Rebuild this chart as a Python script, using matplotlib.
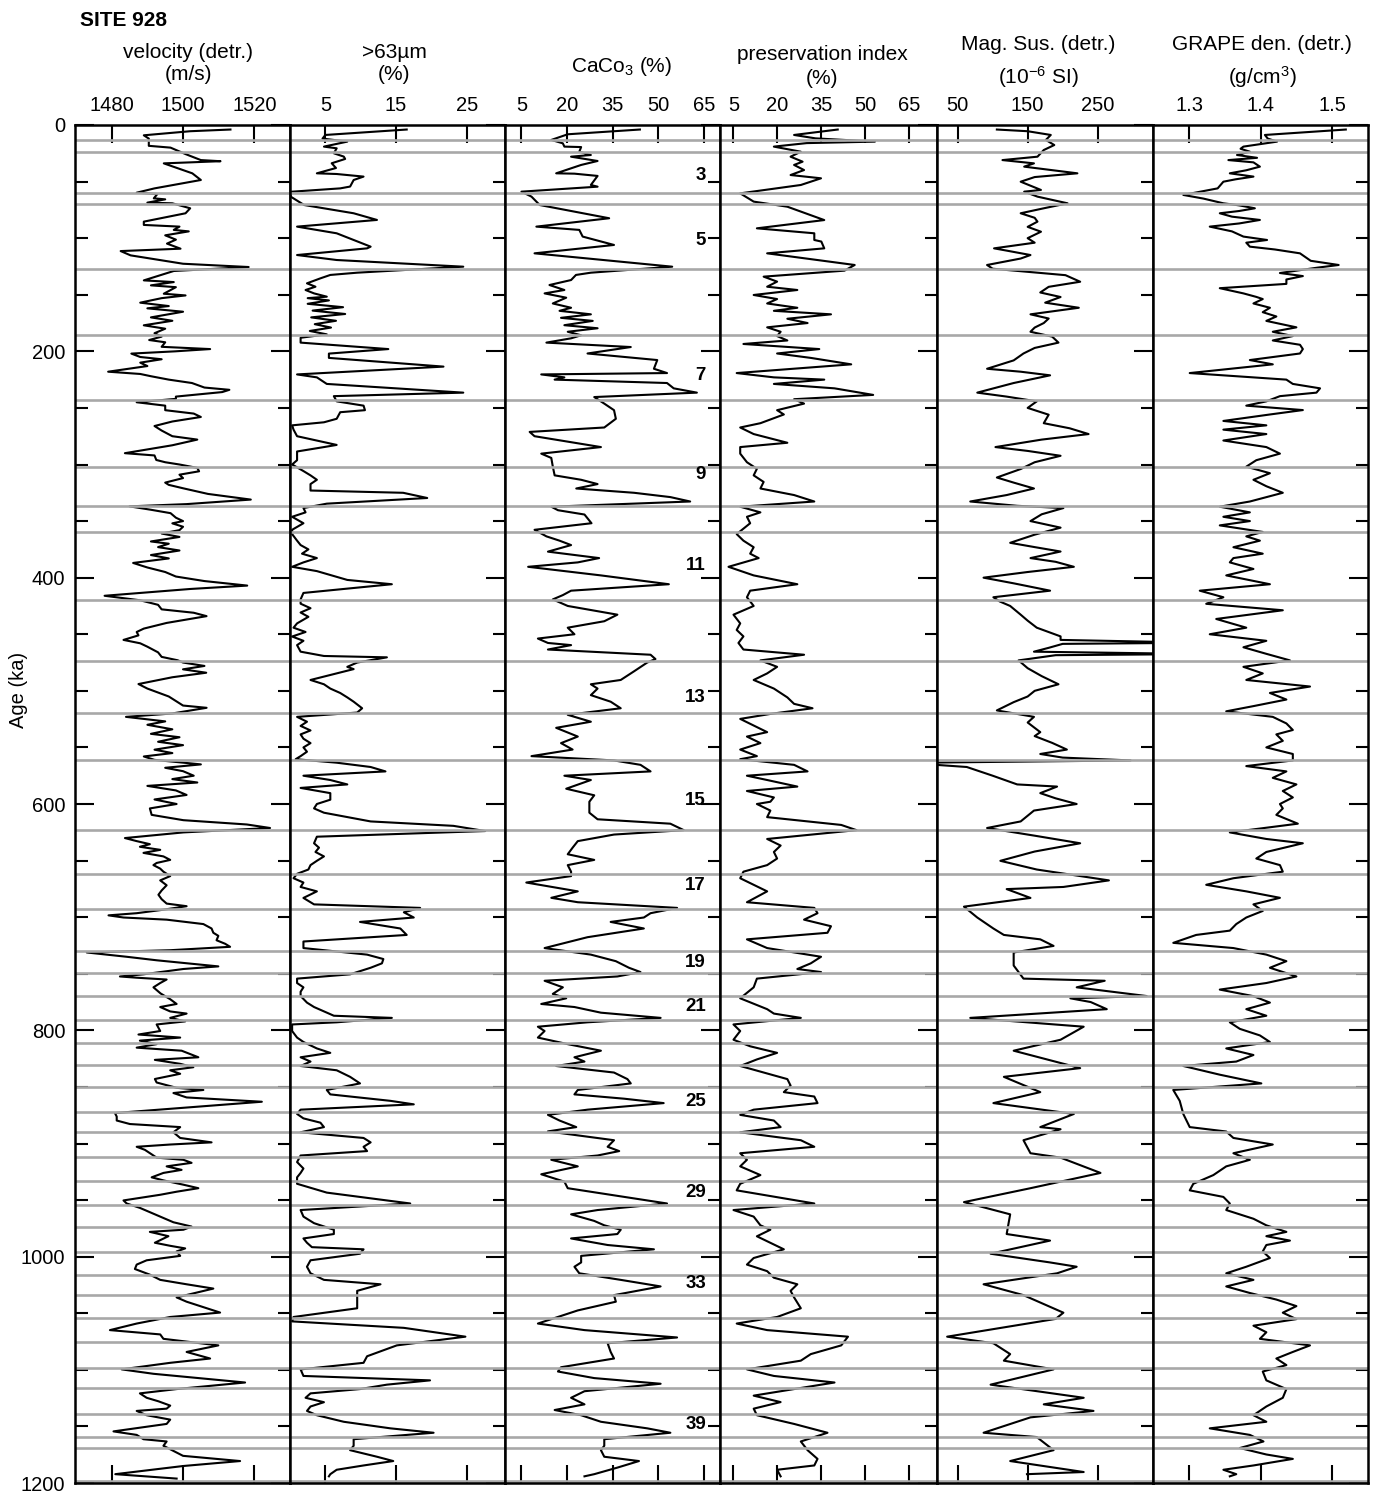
import matplotlib
matplotlib.use("Agg")
import matplotlib.pyplot as plt
import matplotlib.transforms as mtransforms
from matplotlib.ticker import MultipleLocator

plt.rcParams['font.family'] = ['Liberation Sans', 'DejaVu Sans']
plt.rcParams['mathtext.fontset'] = 'custom'
plt.rcParams['mathtext.rm'] = 'Liberation Sans'
plt.rcParams['mathtext.it'] = 'Liberation Sans:italic'
plt.rcParams['mathtext.bf'] = 'Liberation Sans:bold'

# ---- data: (age ka, value) ----
vel_pts = [
    (4, 1513.3), (5.5, 1502), (9.1, 1489), (12, 1490.4), (18.4, 1490.4), (20, 1496.5), (25.7, 1500.7),
    (31, 1505), (32, 1510.5), (33.9, 1494.6), (39.8, 1500), (42.7, 1502.6), (48.6, 1505), (56, 1492),
    (59.8, 1487), (61, 1492.8), (64.8, 1491.8), (65.7, 1495), (68.6, 1490), (69.2, 1497), (73.6, 1502),
    (78, 1500.7), (85.4, 1489), (88.3, 1489), (89.8, 1499), (92.7, 1497.4), (94, 1501.6), (97.5, 1495),
    (101.3, 1498), (104.8, 1495.5), (109.3, 1499.3), (111.4, 1482.5), (115.2, 1485.3), (122.6, 1500),
    (125.5, 1518.4), (129, 1497.4), (137.3, 1489), (138.8, 1497.4), (141.7, 1491), (143.3, 1498),
    (149.1, 1494.6), (150.6, 1500.7), (153, 1494), (157, 1488), (160, 1496), (162, 1490), (165, 1500),
    (170, 1491), (173, 1497), (177, 1489), (180, 1495), (184, 1492), (187, 1494), (190, 1490.5),
    (192, 1495), (196, 1494), (198, 1507.6), (200, 1497.8), (202, 1485.5), (205, 1488), (207, 1494),
    (210, 1488), (213, 1490), (218, 1479), (220, 1488), (222, 1491), (225, 1496), (228, 1502.5),
    (232, 1506), (234, 1513), (236, 1511), (240, 1498), (242, 1498), (245, 1487), (248, 1495),
    (252, 1495), (255, 1503), (258, 1505), (262, 1497), (266, 1492), (270, 1494), (275, 1497),
    (278, 1504), (283, 1497), (290, 1483.7), (292, 1492), (296, 1492.5), (298, 1495), (300, 1499),
    (303, 1504), (306, 1504.5), (309, 1499), (312, 1500), (316, 1495), (318, 1496), (321, 1500),
    (326, 1507), (331, 1519), (335, 1501), (337, 1485), (340, 1491), (343, 1496.5), (347, 1498),
    (350, 1500), (352, 1497), (355, 1500), (358, 1499), (361, 1494), (364, 1499), (368, 1491),
    (370, 1496), (373, 1493), (376, 1499), (380, 1491), (383, 1496), (387, 1486), (391, 1490),
    (395, 1495), (399, 1498), (403, 1506), (407, 1518), (410, 1502), (413, 1490), (416, 1478),
    (420, 1488), (424, 1493), (428, 1494), (431, 1503), (434, 1506.6), (437, 1501), (440, 1495.4),
    (445, 1489), (448, 1487), (451, 1487.5), (455, 1483.3), (458, 1488), (461, 1490), (466, 1493),
    (470, 1494), (473, 1498.5), (475, 1500), (478, 1506), (481, 1500), (484, 1506.5), (488, 1497),
    (494, 1487.5), (498, 1490), (505, 1496), (513, 1500), (515, 1506.6), (520, 1497), (523, 1484),
    (527, 1495), (530, 1490), (534, 1497), (538, 1491), (541, 1499), (545, 1493), (548, 1500),
    (552, 1492), (555, 1497), (558, 1489), (561, 1492), (565, 1505), (568, 1495), (571, 1500),
    (575, 1503), (578, 1497), (581, 1504), (584, 1490), (588, 1498), (592, 1501), (596, 1492),
    (600, 1498.2), (603.9, 1490.7), (609.6, 1491.2), (614.3, 1500.1), (618.1, 1517.9), (621.2, 1524.4),
    (625.1, 1500.1), (630.1, 1483.7), (632.8, 1487), (635.5, 1490.7), (637.8, 1487.9), (640.5, 1493.6),
    (643.2, 1488.9), (646.3, 1494.5), (649.4, 1496.4), (652.1, 1492.6), (654, 1491.7), (657.1, 1493.6),
    (659.8, 1494.5), (663.7, 1496.4), (667.5, 1493.6), (671.8, 1495.4), (676.4, 1494), (680.2, 1493.1),
    (684.1, 1494), (688, 1495.4), (690.3, 1501), (693.4, 1494.5), (696.5, 1487), (698.4, 1479.1),
    (700.3, 1483.3), (702.2, 1495.4), (706.1, 1505.7), (710, 1508), (713.8, 1508.5), (716.5, 1509.9),
    (720.4, 1509.4), (723.5, 1511.8), (726.2, 1513.2), (729.2, 1496.4), (731.2, 1473), (735, 1484.2),
    (738.1, 1492.6), (743.5, 1509.9), (745.8, 1500.1), (750.5, 1488.9), (752.4, 1482.3), (753.5, 1487),
    (755.1, 1495.4), (758.2, 1493.6), (762, 1491.7), (767.4, 1493.7), (772.5, 1496.4), (776.7, 1498.2),
    (779.4, 1493.6), (783.3, 1496.4), (785.2, 1501), (789, 1496.4), (792.1, 1500.6), (794.8, 1492.6),
    (800.6, 1493.6), (803.7, 1487.5), (806.4, 1499.2), (809.1, 1487.9), (812.2, 1492.6), (815.3, 1487),
    (818, 1499.6), (823.8, 1504.3), (826.1, 1492.1), (829.6, 1499.2), (832.6, 1502.9), (835.3, 1496.4),
    (838.4, 1499.2), (843, 1492.1), (846.1, 1492.6), (850.8, 1498.2), (852.7, 1505.7), (855.4, 1497.3),
    (859.3, 1501), (863.1, 1522.1), (866.2, 1509.4), (869.3, 1496.4), (873.1, 1480.9), (876.2, 1481.4),
    (879.7, 1481.4), (882.8, 1485.1), (885.5, 1499.2), (890.1, 1497.3), (895.1, 1499.2), (899, 1508),
    (900.9, 1496.4), (902.9, 1487), (905.6, 1489.3), (912.5, 1492.6), (914.4, 1500.1), (917.1, 1502.4),
    (920.2, 1495.4), (923.3, 1499.6), (926, 1494.5), (929.9, 1491.2), (932.6, 1494.5), (936.4, 1500.1),
    (939.5, 1504.3), (942.6, 1498.2), (945.3, 1493.6), (950.3, 1483.3), (953, 1484.2), (956.9, 1487.9),
    (960.7, 1490.7), (964.6, 1493.6), (969.6, 1497.3), (973.4, 1502.4), (976.2, 1500.1), (978.1, 1490.7),
    (981.9, 1495.9), (987.7, 1492.1), (990.4, 1496.4), (992.7, 1500.6), (995.4, 1498.2), (999.3, 1499.2),
    (1003.2, 1489.8), (1007, 1487), (1010.9, 1486.5), (1015.9, 1490.7), (1020.5, 1493.6), (1024.4, 1501),
    (1028.2, 1508.5), (1036, 1498.2), (1039.8, 1501), (1049.4, 1510.4), (1053.3, 1496.4), (1059.1, 1487),
    (1064.9, 1479.5), (1068.7, 1493.6), (1072.6, 1494.5), (1078.4, 1509.9), (1084.2, 1501), (1090, 1507.6),
    (1093.8, 1496.4), (1099.6, 1482.8), (1103.5, 1491.7), (1111.2, 1517.4), (1117, 1498.2),
    (1120.8, 1487.9), (1124.7, 1489.8), (1127.8, 1493.1), (1131.6, 1496.4), (1134.3, 1495.4),
    (1136.3, 1487), (1140.1, 1489.8), (1144, 1496.4), (1147.8, 1495.4), (1154.4, 1480.5), (1157.5, 1487),
    (1161.3, 1488.9), (1163.3, 1495.4), (1167.1, 1494.5), (1176, 1500), (1180.6, 1516), (1185, 1500),
    (1192.2, 1481), (1196.1, 1498.2),
]

coarse_pts = [
    (4, 16.5), (8.8, 5), (12, 4.6), (14.7, 8.1), (19.1, 4.8), (20.6, 6.6), (25, 6.2), (27.9, 7.6),
    (30, 7.8), (33.8, 5.9), (38, 6.5), (42.7, 3.8), (43.3, 6.6), (45.6, 10.4), (48.6, 9), (54.4, 8.5),
    (56, 7.1), (59, 0.1), (63.3, 0.1), (70.7, 2), (78, 9), (83.9, 12.3), (89.8, 1), (95.7, 6.6),
    (107.5, 11.4), (109, 10.9), (114.9, 1), (119.3, 6.6), (125.2, 24.5), (130.5, 9.5), (132.5, 5.7),
    (135.5, 4.3), (139.9, 2.4), (142.9, 3.6), (145.8, 2.2), (148.8, 3.4), (151.7, 5.2), (153, 2.5),
    (155, 5.5), (158, 2.5), (161, 7.5), (164, 3.2), (167, 7.8), (170, 3.0), (173, 6.5), (176, 3.5),
    (179, 5.8), (182, 2.8), (185, 5.2), (188, 1.5), (192.3, 1.5), (198, 13.9), (202, 5.5), (205.8, 5.5),
    (213.5, 21.7), (220.4, 1), (223, 3.8), (228.8, 5.2), (236.5, 24.5), (239.6, 6.2), (244.2, 6.6),
    (248, 10.4), (252, 10.6), (253.8, 7.1), (259.6, 6.6), (262.7, 4.8), (265.4, 0.3), (269.2, 0.5),
    (275, 1), (282.7, 6.6), (284.6, 4.8), (288.5, 1), (296.2, 1), (300, 0.3), (305.8, 1.9), (309.6, 2.9),
    (313.5, 3.8), (317.3, 2.9), (323, 2.9), (325, 16), (329.6, 19.4), (334.6, 5.2), (338.5, 1.9),
    (342.3, 2.2), (346.2, 0.3), (351.9, 1.9), (357.7, 0.3), (361.5, 0.3), (367.3, 1), (371.2, 1.5),
    (375, 2.6), (378.8, 1.7), (382.7, 3.8), (386.5, 1.9), (390.4, 0.3), (394.2, 3.8), (402, 8.1),
    (405.8, 14.4), (413.5, 1.9), (419.2, 1.5), (423, 1.5), (427, 2.9), (430.8, 1.5), (434.6, 2.6),
    (440.4, 1), (444.2, 0.5), (448, 2.2), (452, 0.3), (455.8, 1.9), (459.6, 1), (465.4, 1.5),
    (469.2, 4.8), (470.4, 13.7), (475, 9.5), (478.8, 8.1), (480.8, 9), (484.6, 6.6), (490.4, 2.9),
    (494.2, 4.8), (498, 5.7), (501.9, 7.1), (505.8, 8.1), (509.6, 9), (515.4, 10.2), (519.2, 9.5),
    (523, 1), (527.3, 2.4), (531, 1.5), (535, 2.9), (538.5, 1.5), (542.3, 1.9), (546.2, 2.9), (550, 1.9),
    (553.8, 2.4), (557.7, 1.5), (560.4, 0.8), (563.5, 6.6), (567.3, 11.4), (571.2, 13.5), (575, 1.9),
    (578.8, 5.7), (582.7, 8.1), (585.8, 1.5), (590.4, 5.7), (596.2, 5.7), (600, 3.8), (603.9, 3.4),
    (607.7, 4.8), (615.4, 11.4), (619.3, 23.1), (623.9, 27.6), (628.9, 3.8), (634.7, 3.4), (638.6, 4.1),
    (642.4, 3.6), (646.3, 4.8), (650.2, 3.8), (654, 2.9), (657.9, 2.6), (661.7, 1), (665.6, 0.5),
    (669.4, 1.9), (673.3, 1.5), (677.2, 3.8), (683, 1.9), (688.7, 3.4), (691.8, 18.4), (695.7, 16.1),
    (700.3, 17.5), (704.2, 9.9), (710, 15.6), (715.7, 16.5), (721.5, 1.9), (727.3, 1.9), (733.1, 10.9),
    (737, 13.2), (740.8, 13), (744.7, 11.4), (750.5, 8.5), (754.3, 1), (758.2, 1), (762, 1.9),
    (765.9, 1.5), (769.7, 1.5), (775.5, 2.4), (779.4, 3.4), (783.3, 4.8), (787.1, 6.2), (789, 14.4),
    (792.9, 6.6), (794.8, 0.3), (796.8, 0.3), (800.6, 0.3), (806.4, 1), (810.3, 1.9), (816, 3.8),
    (819.9, 5.7), (823.8, 1.5), (827.6, 2.9), (831.5, 1.5), (835.3, 6.6), (841.1, 8.5), (846.9, 9.9),
    (852.7, 5.2), (856.6, 5.7), (862.3, 14.2), (865.4, 17.5), (870.1, 1.5), (873.9, 1), (877.8, 1.9),
    (881.6, 4.3), (885.5, 4.8), (890.1, 1.5), (895.1, 10.4), (899, 11.4), (902.9, 10.4), (906.7, 10.9),
    (910.6, 1.5), (916.4, 1), (922.1, 1.9), (926, 1.5), (929.9, 1), (935.6, 1), (943.4, 5.2), (953, 17),
    (958.8, 1.5), (964.6, 1.9), (970.4, 3.4), (976.2, 6.2), (980, 6.2), (983.9, 1.9), (987.7, 2.4),
    (991.6, 3.1), (993.5, 10.4), (997.4, 9.9), (1003.2, 2.9), (1008.9, 2.4), (1014.7, 2.9),
    (1020.5, 4.8), (1024.4, 12.8), (1030.2, 9.5), (1037.9, 9.5), (1045.6, 9.5), (1053.3, 0.5),
    (1057.2, 0.3), (1062.9, 16.1), (1070.7, 24.8), (1078.4, 15.1), (1088, 10.9), (1093.8, 10.4),
    (1099.6, 1.5), (1105.4, 1.9), (1109.3, 19.8), (1113.1, 13.7), (1117, 9.9), (1120.8, 2.9),
    (1124.7, 2.2), (1128.6, 4.8), (1132.4, 2.9), (1136.3, 2.4), (1140.1, 3.8), (1145.9, 7.6),
    (1151.7, 14.2), (1155.6, 20.3), (1161.3, 9), (1167.1, 9), (1171, 8.5), (1176.8, 12.3),
    (1180.6, 14.6), (1184.5, 10.4), (1188.3, 6.6), (1192.2, 5.7), (1194.1, 5.5),
]

caco3_pts = [
    (4, 43.9), (8.2, 20.2), (13.2, 14.8), (16.2, 18.6), (19.1, 19.1), (19.5, 24.6), (23.6, 24),
    (26.5, 27.8), (28, 21.3), (31.8, 30), (35.3, 24.6), (42.7, 16.4), (43, 22.4), (45, 30), (53, 27.8),
    (54.5, 30), (58.9, 5), (63.3, 8.3), (70.7, 11), (82.4, 33.8), (89.8, 9.9), (92.7, 24), (98.6, 25.1),
    (106, 35.4), (113.4, 9.3), (125.2, 54.5), (130.5, 27.8), (132.5, 22.9), (137, 21.3), (141.4, 14.2),
    (145.8, 19.1), (148.8, 12.6), (152.6, 19.7), (157.7, 15.3), (161.5, 21.3), (164.2, 17.5),
    (167.3, 27.8), (170.4, 18), (173.1, 28.4), (176.9, 19.1), (179.6, 30), (182.7, 20.2), (185.8, 24.6),
    (188.5, 21.3), (192.3, 13.2), (196.2, 40.9), (201.9, 26.7), (207.7, 49.6), (215.4, 48.5),
    (219.2, 52.8), (220.4, 11.5), (223, 19.1), (225, 15.9), (228, 52.8), (232.7, 55), (236.5, 62.6),
    (240.4, 28.9), (246.2, 32.2), (252, 35.4), (259.6, 36), (267.3, 32.2), (271.2, 7.7), (275, 9.3),
    (284.6, 31.1), (290.4, 11.5), (294.2, 14.8), (301.9, 15.3), (309.6, 15.9), (313.5, 24.6),
    (317.3, 30), (321.2, 23), (325, 42), (328.8, 53.9), (332.7, 60.4), (337.3, 14.8), (340.4, 17),
    (344.2, 25.7), (351.9, 28), (357.7, 9.3), (363.5, 13.2), (367.3, 17.5), (371.2, 21.3), (377, 13.7),
    (382.7, 30.5), (386.5, 23.5), (390.4, 7.2), (398, 31.1), (405.8, 53.4), (411.5, 21.3), (415.4, 18.6),
    (419.2, 15.3), (425, 20.2), (432.7, 36.5), (438.5, 32.2), (444.2, 20.2), (450, 22.4), (453.8, 10.4),
    (457.7, 13.7), (459.6, 21.3), (463.5, 13.7), (468.1, 47.4), (471.9, 49), (475, 46.3), (482.7, 42),
    (490.4, 37.6), (494.2, 27.8), (498, 30), (503.8, 27.8), (509.6, 34.3), (515.4, 37.6), (521.2, 20.2),
    (527.3, 27.8), (532.7, 16.4), (540.4, 23.5), (546.2, 18), (551.9, 21.8), (557.7, 8.3), (561.5, 35.4),
    (565.4, 44.1), (571.2, 47.4), (575, 19.1), (578.8, 27.8), (586.5, 19.7), (592.3, 28.9), (598, 27.3),
    (607.7, 27.3), (613.5, 30), (617.4, 53.9), (623.1, 58.3), (627, 35.4), (632.8, 23.5), (638.6, 21.8),
    (644.4, 20.2), (649.4, 28.9), (654, 20.2), (659.8, 21.3), (663.7, 21.3), (669.4, 6.6), (677.2, 23.5),
    (682.9, 14.8), (686.8, 23.5), (691.8, 56.1), (696.5, 47.4), (700.3, 45.2), (704.2, 34.3), (710, 45.2),
    (717.7, 26.7), (727.3, 12.6), (733.1, 27.8), (738.9, 36), (744.7, 40.3), (748.5, 44.1), (752.4, 36.5),
    (756.2, 12.6), (762, 18.6), (767.8, 15.3), (771.7, 19.7), (776.7, 11.5), (779.4, 22.4), (784.4, 31.1),
    (789, 50.7), (792.9, 26.7), (796.8, 10.4), (800.6, 12.6), (806.4, 10.4), (812.2, 20.2), (818, 31.1),
    (823.8, 22.4), (827.6, 25.7), (831.5, 16.4), (837.3, 35.4), (843.1, 39.8), (846.9, 40.9),
    (852.7, 23.5), (856.6, 22.4), (860.4, 38.7), (864.3, 51.7), (870.1, 26.7), (874.7, 13.7),
    (879.7, 17.5), (885.5, 23), (889.3, 13.7), (897.1, 35.4), (902.9, 33.3), (906.7, 37.1), (910.6, 30),
    (914.4, 14.8), (920.2, 23.5), (927.2, 11.5), (933.7, 19.1), (939.5, 20.2), (945.3, 34.3), (953, 52.8),
    (958.8, 30), (962.6, 21.3), (968.4, 28.9), (972.3, 32.2), (976.2, 37.6), (980, 36.5), (983.9, 21.3),
    (989.7, 33.3), (993.5, 48.5), (999.3, 24.6), (1005.1, 24.6), (1008.9, 22.4), (1014.7, 24),
    (1020.5, 37.6), (1026.3, 50.7), (1034, 35.4), (1039.8, 36), (1047.5, 23.5), (1053.3, 17),
    (1059.1, 10.4), (1064.9, 25.7), (1071.4, 56.1), (1076.5, 33.3), (1084.2, 34.3), (1090, 35.4),
    (1097.7, 18), (1101.5, 17), (1107.3, 28.9), (1112.3, 50.7), (1118.9, 25.7), (1124.7, 21.3),
    (1130.5, 25.7), (1135.5, 15.9), (1140.1, 24.6), (1145.9, 31.1), (1151.7, 46.3), (1155.6, 53.9),
    (1161.3, 32.2), (1167.1, 32.2), (1171, 31.1), (1176.8, 32.2), (1180.6, 43.6), (1186.4, 36.5),
    (1192.2, 28.9), (1194.1, 25.7),
]

pres_pts = [
    (4, 40.6), (8.8, 25.7), (11.8, 33), (14.7, 53.3), (16, 30), (19.1, 18.8), (23.6, 28), (28, 24.5),
    (32.4, 28.6), (35.3, 25.7), (39.8, 29.1), (44.2, 24.5), (47.1, 34.9), (53, 28), (60.4, 7.3),
    (67.7, 11.9), (72.2, 23.4), (84, 36), (91.3, 13), (95.7, 32.6), (101.6, 32.6), (103, 35), (109, 36),
    (113.4, 16.5), (123.7, 46.4), (128.7, 42.9), (134, 15.3), (138.4, 19.9), (142.9, 16.5), (145.8, 26.8),
    (150.2, 11.9), (153.8, 19.9), (157.7, 16.5), (161.5, 26.8), (164.2, 18.8), (167.3, 38.3),
    (171.2, 23.4), (175, 30.3), (178.8, 16.5), (182.7, 21.1), (186.5, 19.9), (190.4, 23.4), (193.5, 8.4),
    (198, 34.3), (201.9, 19.9), (205.8, 31.4), (211.5, 45.2), (219.2, 6.1), (223, 18.8), (225, 36),
    (228.8, 18.8), (232.7, 39.5), (238.5, 52.7), (242.3, 25.7), (246.2, 29.1), (252, 19.9), (255.8, 22.2),
    (263.5, 14.2), (267.3, 7.3), (273.1, 11.9), (280.8, 23.4), (284.6, 7.3), (290.4, 7.3), (298, 9.6),
    (303.8, 13), (309.6, 11.9), (315.4, 15.3), (321.2, 14.2), (327, 25.7), (332.7, 32.6), (337.3, 7.3),
    (342.3, 14.2), (346.2, 9.6), (351.9, 10.7), (361.5, 6.1), (367.3, 8.4), (373.1, 11.9), (378.8, 10.7),
    (382.7, 13.6), (390.4, 3.3), (398, 11.9), (405.8, 26.8), (411.5, 10.7), (417.3, 9.6), (425, 11.9),
    (432.7, 5), (440.4, 7.3), (446.2, 6.1), (451.9, 8.4), (457.7, 6.7), (463.5, 8.4), (468.1, 29.1),
    (473.1, 14.2), (478.8, 19.9), (484.6, 16.5), (490.4, 11.9), (498, 18.8), (505.8, 23.4), (511.5, 25.7),
    (515.4, 32), (520.4, 17.6), (524.8, 7.3), (530.6, 11.9), (536.5, 16.5), (540.4, 9.6), (546.2, 14.2),
    (551.9, 7.3), (557.7, 13), (560.4, 7.3), (565.4, 25.7), (571.2, 30.3), (575, 9.6), (578.8, 16.5),
    (584.6, 26.8), (588.5, 9.6), (594.2, 18.8), (598, 17.6), (600, 13), (605.8, 17.6), (611.6, 16.5),
    (618.5, 41.8), (623.1, 47), (630.9, 16.5), (636.7, 21.1), (642.4, 18.8), (648.2, 19.9), (654, 16.5),
    (659.8, 8.4), (665.6, 7.3), (671.4, 11.9), (677.2, 16.5), (686.8, 9.6), (691.8, 32.6), (696.5, 33.7),
    (702.2, 29.1), (708, 38.3), (713.8, 37.1), (719.6, 9.6), (727.3, 16.5), (735, 34.9), (740.8, 31.4),
    (745.8, 26.8), (748.5, 34.9), (754.3, 13), (762, 11.9), (771.7, 7.3), (781.3, 16.5), (785.2, 18.8),
    (789, 28), (794.8, 5), (800.6, 7.3), (808.3, 5), (814.1, 10.7), (819.9, 19.9), (825.7, 13),
    (831.5, 7.3), (837.3, 15.3), (843.1, 23.4), (848.8, 24.5), (854.6, 22.2), (858.5, 32.6), (864.3, 33.7),
    (870.1, 11.9), (874.7, 7.3), (879.7, 18.8), (885.5, 21.1), (890.1, 7.3), (897.1, 28), (902.9, 32.6),
    (908.6, 7.3), (914.4, 9.6), (920.2, 7.3), (927.9, 14.2), (935.6, 7.3), (941.4, 6.1), (953, 32.6),
    (958.8, 5), (964.6, 11.9), (972.3, 14.2), (976.2, 17.6), (982, 13), (987.7, 17.6), (993.5, 22.2),
    (1001.2, 11.9), (1007, 9.6), (1012.8, 16.5), (1018.6, 18.8), (1024.4, 26.8), (1030.2, 24.5),
    (1036, 25.7), (1045.6, 28), (1053.3, 19.9), (1059.1, 6.1), (1064.9, 16.5), (1070.7, 44.1),
    (1078.4, 41.8), (1086.1, 31.4), (1091.9, 28), (1099.6, 9.6), (1105.4, 18.8), (1111.2, 39.5),
    (1117, 25.7), (1122.8, 11.9), (1128.5, 21.1), (1134.3, 11.9), (1140.1, 13), (1147.8, 25.7),
    (1155.6, 37.1), (1163.3, 28), (1171, 30.3), (1178.7, 33.7), (1184.5, 32.6), (1188.3, 19.9),
    (1194.1, 21.1),
]

magsus_pts = [
    (4, 106), (5.5, 150), (8.8, 183), (13.2, 176), (17.7, 188), (22.1, 173), (28, 164), (31, 114),
    (33.9, 159), (36.8, 145), (42.7, 221), (46, 160), (50.1, 140), (57.4, 169), (58.9, 145), (63.3, 164),
    (69.2, 207), (73.6, 173), (78, 140), (82, 160), (85.4, 164), (90, 150), (94.3, 169), (100, 150),
    (104, 160), (109, 102), (111, 120), (114.9, 154), (118, 140), (123.7, 92), (127, 100), (132.7, 204),
    (138.5, 225), (143, 180), (148, 168), (152, 197), (157, 175), (161.5, 223), (167.3, 154), (171, 180),
    (175, 173), (179, 160), (182.7, 154), (187, 185), (192.3, 194), (197, 160), (201.9, 144), (208, 130),
    (215.4, 92), (218, 140), (221.2, 182), (228, 130), (236.5, 78), (240, 120), (244.2, 163), (250, 150),
    (256, 180), (263.5, 173), (268, 210), (273.1, 237), (278, 170), (284.6, 104), (288, 150),
    (292.3, 197), (298, 160), (304, 140), (311.5, 106), (316, 130), (321.2, 159), (327, 120),
    (332.7, 68), (336.5, 135), (338.5, 201), (344, 170), (350, 154), (355.8, 197), (362, 160),
    (369.2, 125), (373, 160), (376.9, 197), (382.7, 154), (386, 190), (390.4, 216), (395, 150), (400, 87),
    (405, 130), (411.5, 182), (417.3, 101), (421, 110), (425, 125), (432.7, 140), (438, 150),
    (444.2, 163), (448, 180), (451.9, 197), (455, 197), (457.5, 400), (458.5, 200), (462, 180),
    (465.4, 159), (467.5, 400), (468.5, 190), (473.1, 137), (480, 150), (487, 170), (494.2, 194),
    (500, 160), (505, 150), (510, 130), (517.3, 106), (523, 159), (528, 150), (536.5, 168), (540, 160),
    (546, 185), (551.9, 206), (555.8, 168), (559, 200), (561.5, 297), (563.5, 0), (565, 10), (567.3, 63),
    (575, 100), (582.7, 135), (584.6, 192), (590.4, 168), (595, 190), (600, 220), (605.8, 159),
    (615.4, 140), (621.2, 92), (628, 160), (634.7, 225), (642, 160), (650.2, 111), (657.9, 163),
    (667.5, 266), (673.3, 201), (675.2, 120), (683, 154), (690.7, 59), (700.3, 78), (710, 101),
    (715.7, 116), (719.6, 168), (725.4, 187), (731.2, 130), (742.7, 130), (754.3, 144), (756.2, 260),
    (762, 220), (769.7, 320), (771.7, 211), (775, 240), (781.3, 263), (789, 68), (796.8, 230),
    (808.3, 197), (818, 130), (833.4, 225), (841.1, 116), (854.6, 168), (864.3, 101), (873.9, 216),
    (885.5, 168), (887.4, 197), (897.1, 144), (908.6, 154), (912.5, 197), (926, 254), (939.5, 154),
    (951.8, 59), (962.6, 125), (980, 120), (985.8, 182), (997.4, 97), (1005.1, 182), (1008.9, 220),
    (1014.7, 192), (1024.4, 87), (1034, 144), (1049.5, 201), (1055, 190), (1070.7, 35), (1076.5, 101),
    (1086.1, 125), (1091.9, 116), (1099.6, 187), (1113.1, 97), (1124.7, 230), (1130.5, 173),
    (1136.3, 244), (1142, 154), (1155.6, 87), (1159.4, 163), (1171, 187), (1180.6, 125), (1190.3, 230),
    (1192.2, 149),
]

grape_pts = [
    (4, 1.519), (8.8, 1.406), (12, 1.41), (14.7, 1.423), (19.1, 1.376), (21, 1.372), (23.6, 1.385),
    (26.5, 1.367), (29, 1.395), (31, 1.355), (33, 1.39), (36.8, 1.399), (40, 1.38), (42.7, 1.357),
    (45.6, 1.39), (48, 1.365), (50.1, 1.348), (56, 1.34), (61.8, 1.292), (65, 1.32), (69.2, 1.348),
    (71, 1.37), (73.6, 1.392), (76, 1.37), (78, 1.343), (81, 1.36), (83.9, 1.399), (87, 1.37),
    (89.8, 1.329), (94, 1.36), (98.6, 1.376), (101.6, 1.409), (104, 1.38), (107.5, 1.385), (110, 1.42),
    (113.4, 1.455), (117.8, 1.465), (120, 1.47), (123.7, 1.509), (126, 1.48), (130.8, 1.427),
    (133.5, 1.459), (136.5, 1.436), (140.4, 1.436), (144.2, 1.343), (148.8, 1.376), (151.9, 1.394),
    (153.8, 1.403), (157.7, 1.39), (161.5, 1.413), (165.4, 1.403), (169.2, 1.422), (173.1, 1.408),
    (178.8, 1.45), (182.7, 1.417), (186.5, 1.445), (190.4, 1.417), (194.2, 1.455), (198, 1.459),
    (201.9, 1.455), (207.7, 1.385), (211.5, 1.417), (219.2, 1.301), (225, 1.436), (228.8, 1.445),
    (232.7, 1.483), (236.5, 1.478), (239.6, 1.427), (244.2, 1.408), (248, 1.38), (251.9, 1.459),
    (255.8, 1.413), (261.5, 1.348), (265.4, 1.408), (269.2, 1.348), (273.1, 1.408), (278.8, 1.348),
    (284.6, 1.408), (290.4, 1.427), (296.2, 1.394), (301.9, 1.38), (307.7, 1.413), (313.5, 1.39),
    (319.2, 1.408), (325, 1.431), (332.7, 1.385), (337.3, 1.343), (342.3, 1.385), (346.2, 1.348),
    (350, 1.385), (353.8, 1.343), (359.6, 1.403), (363.5, 1.38), (367.3, 1.399), (373.1, 1.362),
    (378.8, 1.403), (382.7, 1.362), (386.5, 1.357), (392.3, 1.39), (398, 1.352), (405.8, 1.413),
    (411.5, 1.315), (417.3, 1.348), (423.1, 1.324), (428.8, 1.431), (436.5, 1.338), (444.2, 1.38),
    (450, 1.329), (455.8, 1.408), (461.5, 1.376), (467.3, 1.408), (473.1, 1.441), (478.8, 1.376),
    (484.6, 1.403), (490.4, 1.38), (496.2, 1.469), (501.9, 1.413), (507.7, 1.436), (513.5, 1.39),
    (518.1, 1.352), (523, 1.417), (528.8, 1.436), (534.6, 1.445), (538.5, 1.422), (544.2, 1.431),
    (550, 1.408), (555.8, 1.445), (561.5, 1.445), (566.5, 1.38), (571.2, 1.436), (576.9, 1.417),
    (582.7, 1.45), (588.5, 1.431), (594.2, 1.445), (600, 1.427), (603.9, 1.431), (609.6, 1.422),
    (617.4, 1.452), (625.1, 1.357), (630.9, 1.408), (634.7, 1.459), (642.4, 1.408), (648.2, 1.394),
    (654, 1.427), (659.8, 1.431), (665.6, 1.362), (671.4, 1.324), (677.2, 1.38), (682.9, 1.427),
    (688.7, 1.39), (694.5, 1.403), (700.3, 1.38), (706.1, 1.366), (711.9, 1.357), (715.7, 1.31),
    (722.7, 1.278), (727.3, 1.362), (733.1, 1.408), (738.9, 1.436), (744.7, 1.413), (752.4, 1.45),
    (758.2, 1.408), (764, 1.343), (769.8, 1.39), (775.5, 1.413), (781.3, 1.38), (787.1, 1.408),
    (792.9, 1.357), (798.7, 1.371), (804.5, 1.399), (810.3, 1.413), (816, 1.352), (821.8, 1.39),
    (827.6, 1.366), (831.5, 1.292), (839.2, 1.343), (846.9, 1.401), (852.7, 1.278), (862.3, 1.287),
    (873.9, 1.292), (885.5, 1.301), (889.4, 1.352), (895.1, 1.362), (900.9, 1.417), (908.6, 1.362),
    (914.4, 1.385), (920.2, 1.352), (927.9, 1.334), (935.6, 1.306), (941.4, 1.301), (947.2, 1.348),
    (953, 1.357), (958.8, 1.352), (966.5, 1.39), (972.3, 1.408), (978.1, 1.436), (981.9, 1.408),
    (985.8, 1.441), (989.7, 1.408), (995.4, 1.403), (1001.2, 1.413), (1008.9, 1.38), (1014.7, 1.352),
    (1020.5, 1.39), (1026.3, 1.352), (1032.1, 1.385), (1037.9, 1.422), (1043.7, 1.45), (1049.5, 1.431),
    (1055.2, 1.45), (1061, 1.39), (1066.8, 1.408), (1072.6, 1.399), (1078.4, 1.469), (1084.2, 1.445),
    (1090, 1.422), (1095.8, 1.436), (1101.5, 1.403), (1109.3, 1.408), (1117, 1.436), (1124.7, 1.431),
    (1132.4, 1.408), (1140.1, 1.39), (1145.9, 1.408), (1151.7, 1.329), (1157.5, 1.385), (1163.3, 1.404),
    (1169.1, 1.371), (1174.8, 1.408), (1178.7, 1.445), (1184.5, 1.39), (1188.3, 1.348), (1192.2, 1.366),
    (1194.1, 1.357),
]

# grey horizontal lines (ka)
line_ages = [13, 24, 60, 70, 127, 186, 243, 302, 337, 360, 420, 474, 520, 561, 623, 662, 693, 730,
             749, 770, 791, 811, 831, 850, 872, 890, 912, 933, 954, 974, 996, 1016, 1034, 1054, 1075,
             1098, 1116, 1139, 1159, 1169, 1198]

# isotope stage numbers and their ages
stage_labels = ['3', '5', '7', '9', '11', '13', '15', '17', '19', '21', '25', '29', '33', '39']
stage_ages = [45, 102, 221, 309, 389, 506, 597, 672, 740, 779, 863, 943, 1024, 1148]

panels = [
    (vel_pts, (1469.7, 1530), [1480, 1500, 1520], ['1480', '1500', '1520']),
    (coarse_pts, (0, 30.4), [5, 15, 25], ['5', '15', '25']),
    (caco3_pts, (-0.4, 70.2), [5, 20, 35, 50, 65], ['5', '20', '35', '50', '65']),
    (pres_pts, (0.4, 74.5), [5, 20, 35, 50, 65], ['5', '20', '35', '50', '65']),
    (magsus_pts, (20.5, 329), [50, 150, 250], ['50', '150', '250']),
    (grape_pts, (1.2497, 1.550), [1.3, 1.4, 1.5], ['1.3', '1.4', '1.5']),
]

W, H = 1375, 1495
fig = plt.figure(figsize=(W / 100, H / 100), dpi=100)

edges = [75, 290, 505, 720, 937, 1153, 1368]
top_px, bot_px = 125, 1483

axes = []
for i, (pts, xlim, xt, xtl) in enumerate(panels):
    x0, x1 = edges[i], edges[i + 1]
    ax = fig.add_axes([x0 / W, 1 - bot_px / H, (x1 - x0) / W, (bot_px - top_px) / H])
    ages = [p[0] for p in pts]
    vals = [p[1] for p in pts]
    ax.plot(vals, ages, color='black', lw=1.5, zorder=2)
    for a in line_ages:
        ax.axhline(a, color='#a8a8a8', lw=1.9, zorder=3)
    ax.set_xlim(*xlim)
    ax.set_ylim(1200, 0)
    ax.set_xticks(xt)
    ax.set_xticklabels(xtl)
    ax.tick_params(axis='x', which='both', direction='in', top=True, bottom=True,
                   labeltop=True, labelbottom=False, length=13, width=1.5,
                   labelsize=14.5, pad=7.5)
    ax.yaxis.set_major_locator(MultipleLocator(200))
    ax.yaxis.set_minor_locator(MultipleLocator(50))
    ax.tick_params(axis='y', which='both', direction='in', left=(i == 0), right=True,
                   labelleft=(i == 0), labelright=False, width=1.5, labelsize=14.5, pad=7)
    ax.tick_params(axis='y', which='major', length=14)
    ax.tick_params(axis='y', which='minor', length=9)
    for s in ax.spines.values():
        s.set_linewidth(1.8)
        s.set_zorder(4)
    axes.append(ax)

# stage numbers in the CaCO3 panel
ax3 = axes[2]
trans = mtransforms.blended_transform_factory(ax3.transAxes, ax3.transData)
for lab, a in zip(stage_labels, stage_ages):
    ax3.text(0.935, a, lab, transform=trans, ha='right', va='center',
             fontsize=13.5, fontweight='bold', zorder=5)


def ftext(x, y, s, **kw):
    fig.text(x / W, 1 - y / H, s, ha='center', va='center', fontsize=15, **kw)


fig.text(80 / W, 1 - 20 / H, 'SITE 928', ha='left', va='center', fontsize=15, fontweight='bold')
ftext(188, 53, 'velocity (detr.)')
ftext(188, 75, '(m/s)')
ftext(394, 53, '>63µm')
ftext(394, 75, '(%)')
ftext(622, 67, 'CaCo$_3$ (%)')
ftext(822, 55, 'preservation index')
ftext(822, 78, '(%)')
ftext(1038, 45, 'Mag. Sus. (detr.)')
ftext(1038, 77, '(10$^{-6}$ SI)')
ftext(1262, 45, 'GRAPE den. (detr.)')
ftext(1262, 77, '(g/cm$^3$)')
fig.text(18 / W, 1 - 690 / H, 'Age (ka)', rotation=90, ha='center', va='center', fontsize=14.5)

fig.savefig('out.png', dpi=100)
